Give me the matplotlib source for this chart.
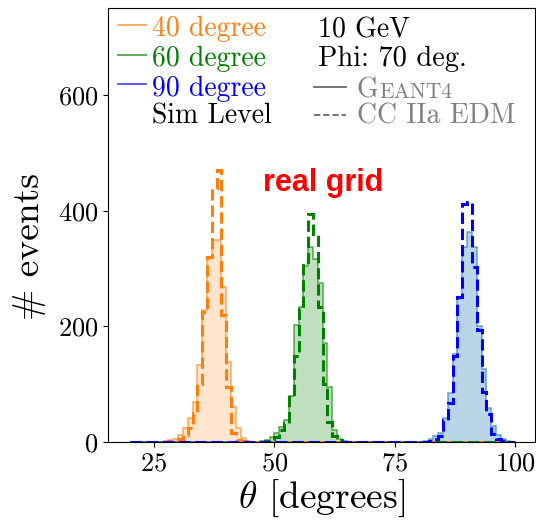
import numpy as np
import matplotlib
matplotlib.use("Agg")
import matplotlib.pyplot as plt

plt.rcParams["font.family"] = "serif"
plt.rcParams["font.serif"] = ["cmr10"]
plt.rcParams["mathtext.fontset"] = "cm"
plt.rcParams["axes.formatter.use_mathtext"] = True

# 1-degree bins from 20 to 100 degrees
bin_edges = np.arange(20, 101, 1)

# theta = 40 degree sample (first bin starts at 27 deg)
first_bin_40 = 27
geant4_40 = [1, 3, 6, 12, 25, 42, 70, 133, 228, 320, 350, 350, 269, 139, 61, 24, 7, 2]
edm_40 = [0, 1, 2, 5, 12, 25, 50, 100, 225, 320, 440, 470, 220, 95, 15, 3, 1, 0]

# theta = 60 degree sample (first bin starts at 47 deg)
first_bin_60 = 47
geant4_60 = [1, 3, 9, 15, 26, 38, 80, 202, 233, 305, 338, 316, 276, 171, 96, 21, 6, 1]
edm_60 = [0, 1, 4, 9, 21, 33, 78, 148, 231, 312, 394, 360, 234, 100, 34, 10, 3, 0]

# theta = 90 degree sample (first bin starts at 81 deg)
first_bin_90 = 81
geant4_90 = [1, 6, 10, 15, 42, 85, 153, 251, 337, 364, 337, 200, 127, 58, 27, 12, 5, 1]
edm_90 = [0, 2, 5, 11, 38, 67, 148, 251, 412, 415, 302, 194, 87, 48, 13, 5, 2, 0]

series_labels = ["40 degree", "60 degree", "90 degree"]
x_ticks = [25, 50, 75, 100]
y_ticks = [0, 200, 400, 600]


def full_counts(first_bin, counts):
    out = np.zeros(len(bin_edges) - 1)
    i0 = int(np.searchsorted(bin_edges, first_bin))
    out[i0:i0 + len(counts)] = counts
    return out


samples = [
    (first_bin_40, geant4_40, edm_40, "C1", 0.2, "C1"),
    (first_bin_60, geant4_60, edm_60, "green", 0.25, "green"),
    (first_bin_90, geant4_90, edm_90, "C0", 0.3, "blue"),
]

fig = plt.figure(figsize=(5.36, 5.23), dpi=100)
ax = fig.add_axes([108 / 536, 81 / 523, 427 / 536, 434 / 523])

centers = bin_edges[:-1] + 0.5
for first, g4, edm, fill_c, fill_a, dash_c in samples:
    g4_full = full_counts(first, g4)
    ax.hist(centers, bins=bin_edges, weights=g4_full, histtype="stepfilled",
            color=fill_c, alpha=fill_a)
    ax.hist(centers, bins=bin_edges, weights=g4_full, histtype="step",
            color=fill_c, alpha=0.6, linewidth=1.2)
for first, g4, edm, fill_c, fill_a, dash_c in samples:
    ax.hist(centers, bins=bin_edges, weights=full_counts(first, edm),
            histtype="step", color=dash_c, linestyle="--", linewidth=2.2)

ax.set_xlim(15.45, 104.1)
ax.set_ylim(0, 751)
ax.set_xticks(x_ticks)
ax.set_yticks(y_ticks)
ax.tick_params(labelsize=19)
ax.set_xlabel(r"$\theta$ [degrees]", fontsize=27, labelpad=2)
ax.set_ylabel("# events", fontsize=27)
ax.yaxis.set_label_coords(-0.145, 0.45)


def pos(x, y):
    # pixel position on the canvas -> axes fraction
    return ((x - 108) / 427, (442 - y) / 434)


# left key: sample angles
key_colors = ["C1", "green", "blue"]
for k, (lab, col) in enumerate(zip(series_labels, key_colors)):
    ly = 25 + 29.5 * k
    x0, y0 = pos(118, ly)
    x1, _ = pos(146, ly)
    ax.plot([x0, x1], [y0, y0], color=col, alpha=0.7, lw=1.3,
            transform=ax.transAxes, clip_on=False)
    tx, ty = pos(152, 36.5 + 29.5 * k)
    ax.text(tx, ty, lab, color=col, fontsize=20, va="baseline",
            transform=ax.transAxes)
tx, ty = pos(152, 123)
ax.text(tx, ty, "Sim Level", color="black", fontsize=20, va="baseline",
        transform=ax.transAxes)

# right key: beam settings and simulation type
tx, ty = pos(318, 37)
ax.text(tx, ty, "10 GeV", fontsize=20, va="baseline", transform=ax.transAxes)
tx, ty = pos(318, 66)
ax.text(tx, ty, "Phi: 70 deg.", fontsize=20.5, va="baseline", transform=ax.transAxes)

x0, y0 = pos(314, 87)
x1, _ = pos(346, 87)
ax.plot([x0, x1], [y0, y0], color="dimgray", lw=1.3, transform=ax.transAxes)
tx, ty = pos(357, 97)
g_txt = ax.text(tx, ty, "G", color="gray", fontsize=20, va="baseline",
                transform=ax.transAxes)
ax.annotate("EANT4", xy=(1, 0), xycoords=g_txt, xytext=(0.5, 0.6),
            textcoords="offset points", color="gray", fontsize=15.5,
            va="bottom", ha="left")

x0, y0 = pos(314, 115)
x1, _ = pos(346, 115)
ax.plot([x0, x1], [y0, y0], color="dimgray", lw=1.3, ls="--",
        dashes=(3.5, 1.6), transform=ax.transAxes)
tx, ty = pos(357, 123)
ax.text(tx, ty, "CC IIa EDM", color="gray", fontsize=20, va="baseline",
        transform=ax.transAxes)

tx, ty = pos(323, 183)
ax.text(tx, ty, "real grid", color="red", fontsize=22, fontweight="bold",
        family=["Liberation Sans", "DejaVu Sans"], ha="center", va="center",
        transform=ax.transAxes)

fig.savefig("out.png", dpi=100)
